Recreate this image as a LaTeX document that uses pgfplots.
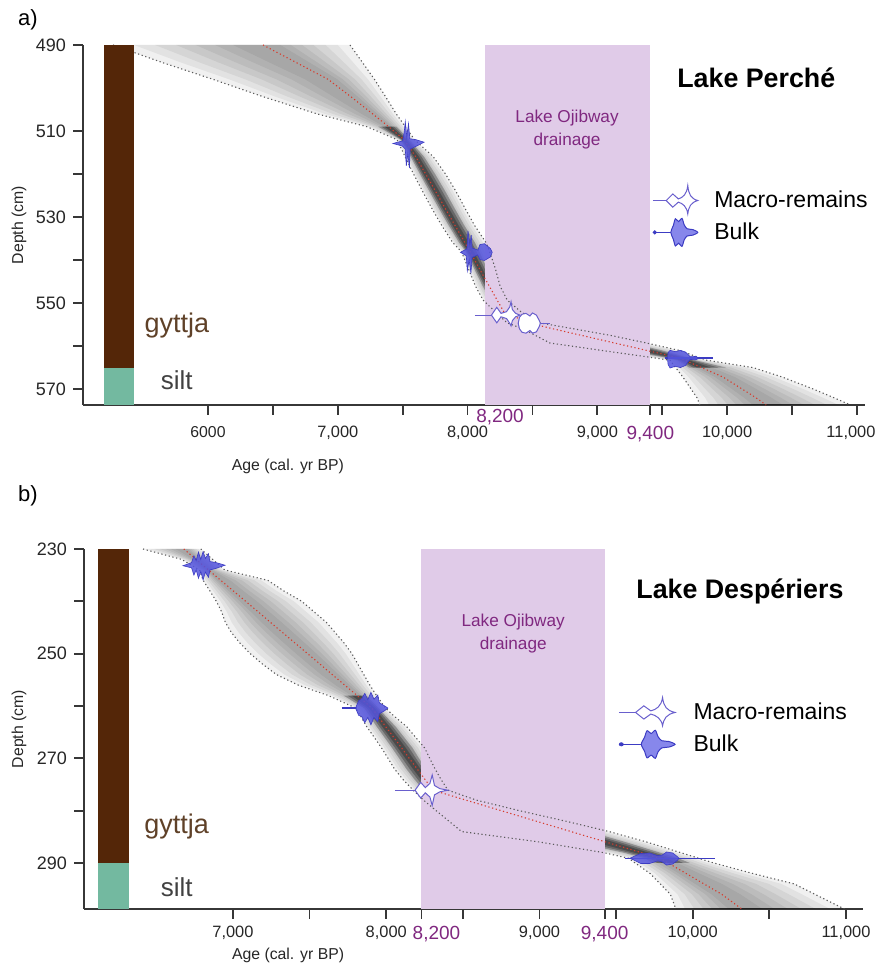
\documentclass[border=0pt]{standalone}
\usepackage{fontspec}
\setmainfont{Liberation Sans}
\usepackage{pgfplots}
\usepackage{pgfplotstable}
\pgfplotsset{compat=1.18}
\usepgfplotslibrary{fillbetween}

\definecolor{ojibox}{RGB}{224,203,232}
\definecolor{ojitext}{RGB}{128,40,128}
\definecolor{gyttjacol}{RGB}{84,38,8}
\definecolor{siltcol}{RGB}{115,185,160}
\definecolor{gyttjatext}{RGB}{95,65,40}
\definecolor{silttext}{RGB}{65,65,65}
\definecolor{bulkfill}{RGB}{85,85,222}
\definecolor{bulkedge}{RGB}{60,60,195}
\definecolor{bulkleg}{RGB}{135,135,235}
\definecolor{macroedge}{RGB}{105,95,205}
\definecolor{boundcol}{RGB}{90,90,90}
\definecolor{medcol}{RGB}{215,60,45}
\definecolor{axiscol}{RGB}{55,55,55}

\pgfplotstableread{
d lo med hi
490 5268 6424 7094
494 5640 6675 7189
498 6040 6926 7283
502 6422 7100 7368
506 6838 7268 7450
509 7225 7392 7520
512 7456 7510 7591
516 7519 7601 7736
520 7584 7677 7830
524 7653 7753 7910
528 7725 7828 7981
532 7802 7904 8055
536 7887 7980 8143
538 7952 8018 8170
542 8006 8091 8214
546 8060 8166 8250
549.3 8119 8227 8305
552 8212 8279 8410
554.6 8304 8466 8555
556 8427 8660 8819
557.5 8521 8875 9098
559.3 8635 9134 9380
561 9031 9378 9629
562.6 9405 9607 9778
563.3 9559 9674 9844
565 9603 9802 10199
567.2 9659 9968 10425
570 9722 10116 10664
572 9767 10221 10822
573.7 9790 10300 10950
}\bandA

\pgfplotstableread{
d lo med hi
230 6413 6679 6790
232 6666 6760 6868
234 6781 6840 6946
236 6806 6921 7228
238 6849 7002 7331
240 6892 7083 7449
242 6926 7164 7529
244 6950 7244 7609
246 6991 7325 7668
248 7046 7406 7726
250 7113 7487 7776
252 7193 7568 7815
254 7284 7648 7854
256 7425 7729 7893
258 7622 7810 7937
260.4 7801 7907 7995
262 7834 7948 8054
264 7874 7998 8135
266 7922 8049 8192
268 7969 8100 8250
270 8012 8150 8284
272 8053 8201 8318
274 8108 8252 8357
276.1 8176 8305 8403
278 8244 8521 8589
280 8325 8749 8868
282 8409 8977 9169
284 8492 9205 9454
286 9001 9433 9700
288 9414 9661 9918
289.1 9581 9786 10038
290 9624 9839 10136
292 9721 9956 10390
294 9788 10073 10661
296 9854 10190 10798
298.8 9890 10320 10990
}\bandB

\newcommand{\macrosym}[1]{%
 \begin{scope}[xscale=#1]
 \draw[macroedge, line width=0.5pt] (0pt,0pt) -- (7pt,0pt);
 \filldraw[fill=white, draw=macroedge, line width=0.5pt]
   (6.7pt,0pt) -- (10pt,3.3pt) -- (12.8pt,0.8pt)
   .. controls (15pt,1.5pt) and (17pt,3pt) .. (17.5pt,7.5pt)
   .. controls (18pt,3pt) and (19pt,1pt) .. (22.5pt,0pt)
   .. controls (19pt,-1pt) and (18pt,-3pt) .. (17.5pt,-6.7pt)
   .. controls (17pt,-3pt) and (15pt,-1.5pt) .. (12.8pt,-0.8pt)
   -- (10pt,-3.3pt) -- cycle;
 \end{scope}}

\newcommand{\bulksym}[1]{%
 \begin{scope}[xscale=#1]
 \draw[bulkedge, line width=0.8pt] (0pt,0pt) -- (10pt,0pt);
 \fill[bulkedge] (1pt,0pt) circle (0.8pt);
 \filldraw[fill=bulkleg, draw=bulkedge, line width=0.5pt]
   plot[smooth cycle, tension=0.5] coordinates {(9pt,0pt)(10.3pt,3.5pt)(11.3pt,6.8pt)(12.9pt,5.4pt)(14.6pt,7pt)(15.7pt,3.8pt)(17.2pt,1.8pt)(20pt,1.4pt)(22.5pt,0pt)(20pt,-1.4pt)(17.2pt,-1.8pt)(15.7pt,-3.8pt)(14.6pt,-7pt)(12.9pt,-5.4pt)(11.3pt,-6.8pt)(10.3pt,-3.5pt)};
 \end{scope}}

\pgfplotsset{
 panel/.style={
  scale only axis,
  y dir=reverse,
  axis x line*=bottom, axis y line*=left,
  axis line style={axiscol, line width=1pt, -},
  every tick/.style={axiscol, line width=0.9pt},
  tick align=outside,
  major tick length=5pt, minor tick length=5pt,
  clip=false,
  scaled x ticks=false, scaled y ticks=false,
  /pgf/number format/assume math mode=true,
  yticklabel style={font=\fontsize{9}{10}\selectfont, text=black!85},
  xticklabel style={font=\fontsize{8.2}{10}\selectfont, text=black!85},
  label style={font=\fontsize{7.9}{9}\selectfont, text=black!85},
  legend cell align=left,
  legend style={draw=none, fill=none, inner sep=0pt, outer sep=0pt,
    font=\fontsize{11.5}{13}\selectfont, row sep=1.5pt, nodes={inner sep=0pt}},
 },
 bound/.style={boundcol, line width=0.55pt, dash pattern=on 0.6pt off 1.3pt},
 median/.style={medcol, line width=0.55pt, dash pattern=on 0.6pt off 1.3pt},
 bulkshape/.style={fill=bulkfill, fill opacity=0.85, draw=bulkedge, line width=0.3pt},
 macroshape/.style={fill=white, draw=macroedge, line width=0.5pt},
}

% layered grey density band: #1 = table, #2 = prefix, #3/#4 = core depth range
\newcommand{\densityband}[4]{%
 \pgfplotsinvokeforeach{100,86,72,58,45,32,20}{%
  \addplot[draw=none, name path=#2L##1] table[x expr=\thisrow{med}-##1/100*(\thisrow{med}-\thisrow{lo}), y=d] {#1};
  \addplot[draw=none, name path=#2H##1] table[x expr=\thisrow{med}+##1/100*(\thisrow{hi}-\thisrow{med}), y=d] {#1};
  \addplot[fill=black, fill opacity=0.06, draw=none] fill between[of=#2L##1 and #2H##1];
 }
 \pgfplotsinvokeforeach{48,33,18}{%
  \addplot[draw=none, name path=#2CL##1, restrict y to domain=#3:#4] table[x expr=\thisrow{med}-##1/100*(\thisrow{med}-\thisrow{lo}), y=d] {#1};
  \addplot[draw=none, name path=#2CH##1, restrict y to domain=#3:#4] table[x expr=\thisrow{med}+##1/100*(\thisrow{hi}-\thisrow{med}), y=d] {#1};
  \addplot[fill=black, fill opacity=0.24, draw=none] fill between[of=#2CL##1 and #2CH##1];
 }
}

\begin{document}
\begin{tikzpicture}

% ================= panel a =================
\begin{axis}[panel, at={(41.5pt,282pt)}, anchor=south west,
 width=391pt, height=180pt,
 xmin=5037, xmax=11062, ymin=490, ymax=573.7,
 ytick={490,510,530,550,570}, minor ytick={520,540,560},
 xtick={6000,7000,8000,9000,9408,10000,11000},
 xticklabels={{\fontsize{7.9}{9}\selectfont 6000},{7,000},{8,000},{9,000},{\fontsize{9.5}{10}\selectfont\textcolor{ojitext}{9,400}},{10,000},{\kern-6pt 11,000}},
 xticklabel style={yshift=-2pt},
 minor xtick={6500,7500,8500,9500,10500},
 extra x ticks={8250}, extra x tick labels={8{,}200},
 extra x tick style={major tick length=0pt, xticklabel style={text=ojitext, font=\fontsize{9.5}{10}\selectfont, yshift=3.5pt}},
 xlabel={Age (cal. yr BP)}, ylabel={Depth (cm)},
 xlabel style={at={(axis description cs:0.262,-0.172)}, anchor=center},
 ylabel style={at={(axis description cs:-0.0818,0.5)}, anchor=center},
 legend style={at={(axis description cs:0.7276,0.611)}, anchor=north west, column sep=8pt},
]
\addlegendimage{legend image code/.code={\macrosym{1}}}
\addlegendentry{Macro-remains}
\addlegendimage{legend image code/.code={\bulksym{1}}}
\addlegendentry{Bulk}

\addplot[draw=none, fill=ojibox] coordinates {(8134,490) (9408,490) (9408,573.7) (8134,573.7)} -- cycle;

\densityband{\bandA}{a}{508}{566}

\addplot[bound] table[x=lo, y=d] {\bandA};
\addplot[bound] table[x=hi, y=d] {\bandA};
\addplot[median] table[x=med, y=d] {\bandA};

\addplot[draw=none, fill=gyttjacol] coordinates {(5199,490) (5430,490) (5430,565.1) (5199,565.1)} -- cycle;
\addplot[draw=none, fill=siltcol] coordinates {(5199,565.1) (5430,565.1) (5430,573.7) (5199,573.7)} -- cycle;

% dates
\addplot[bulkshape] coordinates {(7425,512.9)(7500,512.3)(7512,510.2)(7520,507.8)(7532,511.4)(7545,508.3)(7555,511.8)(7600,512.0)(7665,512.6)(7600,513.6)(7558,514.2)(7552,518.6)(7540,515.2)(7528,518.1)(7520,514.2)(7498,513.5)} -- cycle;
\addplot[bulkshape] coordinates {(7945,538.2)(7995,537.4)(8003,533.2)(8018,536.6)(8028,534.2)(8035,537.2)(8080,537.7)(8095,536.4)(8130,536.2)(8175,537.3)(8190,538.2)(8175,539.3)(8130,540.1)(8095,539.9)(8078,538.8)(8035,539.4)(8026,543)(8012,540)(7998,542.5)(7990,539)} -- cycle;
\addplot[macroedge, line width=0.5pt] coordinates {(8558,554.7)(8635,554.7)};
\addplot[macroshape] coordinates {(8390,554.7)(8400,553.3)(8420,552.6)(8450,552.4)(8480,553.0)(8500,552.3)(8530,552.8)(8555,554.2)(8560,554.7)(8555,555.3)(8530,556.7)(8500,557.0)(8480,556.4)(8450,557.0)(8420,556.8)(8400,556.0)} -- cycle;
\addplot[macroedge, line width=0.5pt] coordinates {(8057,552.8)(8190,552.8)};
\addplot[macroshape] coordinates {(8184,552.8)(8225,551.0)(8258,552.4)(8300,552.0)(8325,550.9)(8335,549.7)(8345,551.5)(8370,552.4)(8404,552.8)(8370,553.2)(8345,554.1)(8335,555.3)(8325,554.7)(8300,553.6)(8258,553.2)(8225,554.6)} -- cycle;
\addplot[bulkedge, line width=0.7pt] coordinates {(9520,562.8)(9890,562.8)};
\addplot[bulkshape] coordinates {(9540,562.8)(9545,561.5)(9560,561.0)(9600,561.3)(9640,561.0)(9680,561.4)(9700,562.0)(9715,562.5)(9760,562.4)(9780,562.8)(9760,563.2)(9715,563.1)(9700,563.6)(9680,564.5)(9640,565.0)(9600,564.7)(9560,565.1)(9545,564.3)} -- cycle;

\node[font=\bfseries\fontsize{13.4}{15}\selectfont] at (axis description cs:0.861,0.908) {Lake Perché};
\node[ojitext, font=\fontsize{8.6}{11.5}\selectfont, align=center] at (axis description cs:0.619,0.764) {Lake Ojibway\\drainage};
\node[gyttjatext, font=\fontsize{13.5}{15}\selectfont] at (axis description cs:0.120,0.222) {gyttja};
\node[silttext, font=\fontsize{13}{15}\selectfont] at (axis description cs:0.120,0.069) {silt};
\node[font=\fontsize{11}{12}\selectfont] at (axis description cs:-0.0703,1.069) {a)};
\end{axis}

% ================= panel b =================
\begin{axis}[panel, at={(42pt,30pt)}, anchor=south west,
 width=389.5pt, height=180pt,
 xmin=6028, xmax=11111, ymin=230, ymax=298.8,
 ytick={230,250,270,290}, minor ytick={240,260,280},
 xtick={7000,8000,9000,9425,10000,11000},
 xticklabels={{7,000},{8,000},{9,000},{\fontsize{9.5}{10}\selectfont\textcolor{ojitext}{9,400}},{10,000},{11,000}},
 minor xtick={7500,8500,9500,10500},
 extra x ticks={8230}, extra x tick labels={8{,}200},
 extra x tick style={xticklabel style={text=ojitext, font=\fontsize{9.5}{10}\selectfont, xshift=7.5pt}},
 xlabel={Age (cal. yr BP)}, ylabel={Depth (cm)},
 xlabel style={at={(axis description cs:0.262,-0.128)}, anchor=center},
 ylabel style={at={(axis description cs:-0.0834,0.5)}, anchor=center},
 legend style={at={(axis description cs:0.6855,0.589)}, anchor=north west, column sep=9pt},
]
\addlegendimage{legend image code/.code={\macrosym{1.25}}}
\addlegendentry{Macro-remains}
\addlegendimage{legend image code/.code={\bulksym{1.25}}}
\addlegendentry{Bulk}

\addplot[draw=none, fill=ojibox] coordinates {(8230,230) (9425,230) (9425,298.8) (8230,298.8)} -- cycle;

\densityband{\bandB}{b}{257}{291}

\addplot[bound] table[x=lo, y=d] {\bandB};
\addplot[bound] table[x=hi, y=d] {\bandB};
\addplot[median] table[x=med, y=d] {\bandB};

\addplot[draw=none, fill=gyttjacol] coordinates {(6119,230) (6321,230) (6321,290) (6119,290)} -- cycle;
\addplot[draw=none, fill=siltcol] coordinates {(6119,290) (6321,290) (6321,298.8) (6119,298.8)} -- cycle;

% dates
\addplot[bulkshape] coordinates {(6674,233.2)(6730,232.6)(6745,231.3)(6760,232.2)(6775,230.6)(6790,232)(6805,230.5)(6820,231.8)(6840,230.9)(6850,232.4)(6890,232.6)(6948,233.1)(6890,233.7)(6850,234)(6840,235.4)(6820,234.4)(6805,235.9)(6790,234.3)(6775,235.6)(6760,234)(6745,235)(6730,233.6)} -- cycle;
\addplot[bulkedge, line width=0.6pt] coordinates {(7711,260.4)(7810,260.4)};
\addplot[bulkshape] coordinates {(7800,260.4)(7820,259)(7840,258.6)(7860,257.6)(7880,258.8)(7900,257.4)(7920,258.7)(7945,257.9)(7955,259.4)(7990,260)(8011,260.4)(7990,260.9)(7955,261.5)(7945,263)(7920,262.2)(7900,263.6)(7880,262.2)(7860,263.2)(7840,262)(7820,261.8)} -- cycle;
\addplot[macroedge, line width=0.5pt] coordinates {(8057,276.1)(8190,276.1)};
\addplot[macroshape] coordinates {(8188,276.1)(8225,274.6)(8255,275.6)(8285,274.8)(8300,273.2)(8315,275.2)(8350,275.8)(8403,276.1)(8350,276.4)(8315,277)(8300,279)(8285,277.4)(8255,276.6)(8225,277.6)} -- cycle;
\addplot[bulkedge, line width=0.7pt] coordinates {(9555,289.1)(10145,289.1)};
\addplot[bulkshape] coordinates {(9590,289.1)(9620,288.7)(9660,288.2)(9720,288.1)(9770,288.6)(9800,288.5)(9830,287.9)(9870,288.1)(9900,288.8)(9910,289.1)(9900,289.5)(9870,290.2)(9830,290.4)(9800,289.8)(9770,289.6)(9720,290.1)(9660,290.1)(9620,289.5)} -- cycle;

\node[font=\bfseries\fontsize{13.4}{15}\selectfont] at (axis description cs:0.842,0.881) {Lake Despériers};
\node[ojitext, font=\fontsize{8.6}{11.5}\selectfont, align=center] at (axis description cs:0.551,0.764) {Lake Ojibway\\drainage};
\node[gyttjatext, font=\fontsize{13.5}{15}\selectfont] at (axis description cs:0.119,0.228) {gyttja};
\node[silttext, font=\fontsize{13}{15}\selectfont] at (axis description cs:0.119,0.061) {silt};
\node[font=\fontsize{11}{12}\selectfont] at (axis description cs:-0.0719,1.147) {b)};
\end{axis}

\pgfresetboundingbox
\useasboundingbox (0,0) rectangle (439.5pt,484.5pt);
\end{tikzpicture}
\end{document}
